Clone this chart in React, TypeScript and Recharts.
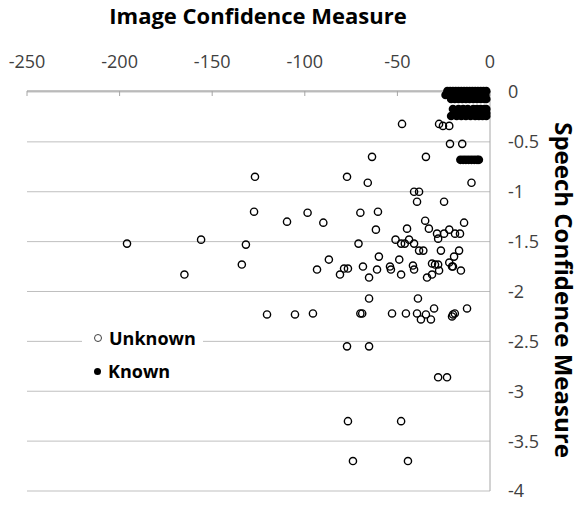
import { ScatterChart, Scatter, XAxis, YAxis, CartesianGrid } from "recharts";

// Image confidence (x) and speech confidence (y) for the "Unknown" group
const unknownX = [
  -47.5, -27.5, -25.4, -22, -21.6, -15, -34.6, -63.7, -10, -66,
  -41, -38.3, -39.4, -24.8, -126.9, -77.2, -127.4, -109.6, -98.5, -90,
  -70, -60.5, -61.6, -44.8, -35, -33, -28.6, -24.8, -22, -18.9,
  -16.2, -14, -28, -71, -51, -48, -46, -43.7, -41, -38.3,
  -36, -26.5, -16.7, -19.4, -87, -60, -49, -93.4, -81, -78.8,
  -76.7, -68.6, -65.3, -61, -54, -53.5, -48, -41.6, -41, -34,
  -31.3, -31.3, -29.7, -28, -27.5, -22, -20.5, -20, -15.7, -196,
  -156, -131.8, -134, -165, -65.3, -38.9, -120.4, -105.3, -95.6, -70,
  -69, -52.9, -45.4, -39.4, -34.6, -37.3, -31.9, -30.2, -20.5, -20,
  -19, -12.4, -77.2, -65.3, -28, -23.2, -76.7, -48, -74, -44.3,
];
const unknownY = [
  -0.32, -0.32, -0.34, -0.34, -0.52, -0.52, -0.65, -0.65, -0.91, -0.91,
  -1.0, -1.0, -1.1, -1.1, -0.85, -0.85, -1.2, -1.3, -1.21, -1.31,
  -1.21, -1.2, -1.38, -1.37, -1.29, -1.37, -1.42, -1.42, -1.38, -1.42,
  -1.42, -1.31, -1.47, -1.52, -1.48, -1.52, -1.52, -1.48, -1.52, -1.59,
  -1.59, -1.59, -1.59, -1.65, -1.68, -1.65, -1.68, -1.78, -1.83, -1.77,
  -1.77, -1.75, -1.86, -1.78, -1.75, -1.78, -1.83, -1.74, -1.78, -1.86,
  -1.83, -1.72, -1.73, -1.73, -1.79, -1.71, -1.75, -1.75, -1.79, -1.52,
  -1.48, -1.53, -1.73, -1.83, -2.07, -2.07, -2.23, -2.23, -2.22, -2.22,
  -2.22, -2.22, -2.22, -2.22, -2.23, -2.28, -2.28, -2.17, -2.25, -2.23,
  -2.22, -2.17, -2.55, -2.55, -2.86, -2.86, -3.3, -3.3, -3.7, -3.7,
];

// "Known" group, packed near the origin
const knownX = [
  -23, -21.5, -20, -18.5, -17, -15.5, -14, -12.5, -11, -9.5, -8, -6.5, -5, -3.5, -2,
  -24, -22, -20, -18, -16, -14, -12, -10, -8, -6, -4, -2.5,
  -21, -19, -17, -15, -13, -11, -9, -7, -5, -3, -2,
  -20, -17, -14.5, -12, -9, -7, -5, -3, -2,
  -19, -17, -15, -13, -11, -9, -7, -5, -3, -2,
  -21, -18, -15.5, -13, -10.5, -8, -6, -4, -2,
  -16, -14.5, -13, -11.5, -10, -8.5, -7, -6,
];
const knownY = [
  0.01, 0.01, 0.01, 0.01, 0.01, 0.01, 0.01, 0.01, 0.01, 0.01, 0.01, 0.01, 0.01, 0.01, 0.01,
  -0.03, -0.03, -0.03, -0.03, -0.03, -0.03, -0.03, -0.03, -0.03, -0.03, -0.03, -0.03,
  -0.07, -0.07, -0.07, -0.07, -0.07, -0.07, -0.07, -0.07, -0.07, -0.07, -0.07,
  -0.17, -0.17, -0.17, -0.17, -0.17, -0.17, -0.17, -0.17, -0.17,
  -0.21, -0.21, -0.21, -0.21, -0.21, -0.21, -0.21, -0.21, -0.21, -0.21,
  -0.24, -0.24, -0.24, -0.24, -0.24, -0.24, -0.24, -0.24, -0.24,
  -0.68, -0.68, -0.68, -0.68, -0.68, -0.68, -0.68, -0.68,
];

const xTicks = [-250, -200, -150, -100, -50, 0];
const yTicks = [0, -0.5, -1, -1.5, -2, -2.5, -3, -3.5, -4];

const unknownData = unknownX.map((x, i) => ({ x, y: unknownY[i] }));
const knownData = knownX.map((x, i) => ({ x, y: knownY[i] }));

const FONT = "'Open Sans', sans-serif";
const TICK = { fill: "#404040", fontSize: 18, fontFamily: FONT };

const HollowDot = (props: any) => (
  <circle cx={props.cx} cy={props.cy} r={3.6} fill="none" stroke="#000" strokeWidth={1.4} />
);
const FilledDot = (props: any) => <circle cx={props.cx} cy={props.cy} r={4.3} fill="#000" />;

export default function App() {
  return (
    <div style={{ position: "absolute", left: 0, top: 0, width: 580, height: 505, background: "#fff" }}>
      <ScatterChart width={580} height={505} margin={{ top: 61, right: 30, bottom: 14, left: 27 }}>
        <CartesianGrid vertical={false} stroke="#bfbfbf" />
        <XAxis
          type="number"
          dataKey="x"
          orientation="top"
          domain={[-250, 0]}
          ticks={xTicks}
          height={30}
          tick={TICK}
          tickSize={-5}
          tickMargin={28}
          axisLine={{ stroke: "#a6a6a6" }}
          tickLine={{ stroke: "#a6a6a6" }}
        />
        <YAxis
          type="number"
          dataKey="y"
          orientation="right"
          domain={[-4, 0]}
          ticks={yTicks}
          width={60}
          tick={TICK}
          tickSize={0}
          tickMargin={18}
          axisLine={{ stroke: "#a6a6a6" }}
          tickLine={false}
        />
        <Scatter data={unknownData} shape={HollowDot} isAnimationActive={false} />
        <Scatter data={knownData} shape={FilledDot} isAnimationActive={false} />
      </ScatterChart>

      <div
        style={{
          position: "absolute",
          left: 0,
          top: 0,
          width: 516,
          textAlign: "center",
          fontFamily: FONT,
          fontWeight: 700,
          fontSize: 22,
          lineHeight: "30px",
          color: "#000",
        }}
      >
        Image Confidence Measure
      </div>

      <div
        style={{
          position: "absolute",
          left: 564,
          top: 290,
          transform: "translate(-50%, -50%) rotate(90deg)",
          whiteSpace: "nowrap",
          fontFamily: FONT,
          fontWeight: 700,
          fontSize: 24,
          lineHeight: "30px",
          color: "#000",
        }}
      >
        Speech Confidence Measure
      </div>

      {/* Legend */}
      <div
        style={{
          position: "absolute",
          left: 82,
          top: 320,
          width: 121,
          background: "#fff",
          fontFamily: FONT,
          fontWeight: 700,
          fontSize: 18,
          color: "#000",
          padding: "2px 0",
        }}
      >
        <div style={{ display: "flex", alignItems: "center", height: 32 }}>
          <span style={{ display: "inline-block", width: 6, height: 6, marginLeft: 12, marginRight: 7, borderRadius: "50%", border: "1px solid #404040" }} />
          Unknown
        </div>
        <div style={{ display: "flex", alignItems: "center", height: 34 }}>
          <span style={{ display: "inline-block", width: 7, height: 7, marginLeft: 12, marginRight: 7, borderRadius: "50%", background: "#000" }} />
          Known
        </div>
      </div>
    </div>
  );
}
